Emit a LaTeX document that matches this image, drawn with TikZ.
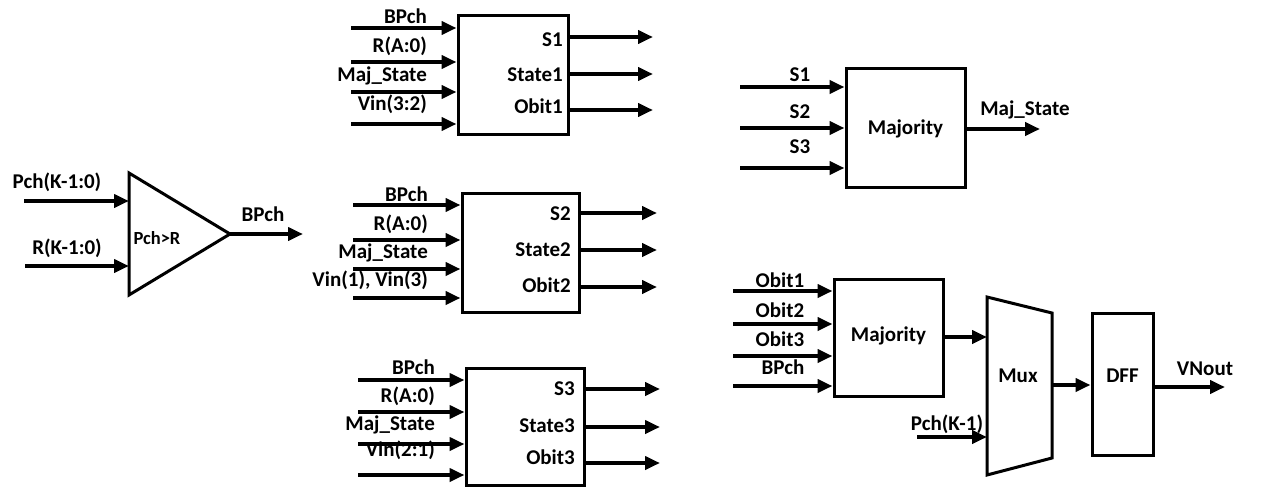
\documentclass[tikz,border=0pt]{standalone}
\usepackage{fontspec}
\setmainfont{Carlito}
\usetikzlibrary{arrows.meta}
\begin{document}
\begin{tikzpicture}[x=1pt,y=-1pt,
  sig/.style={line width=4pt,-{Triangle[length=15pt,width=13pt]}},
  blk/.style={draw,line width=3pt,rectangle,inner sep=0pt},
  lbl/.style={inner sep=0pt,font=\fontsize{21}{24}\selectfont\bfseries,text height=14pt,text depth=3pt},
  slbl/.style={lbl,font=\fontsize{18.5}{20}\selectfont\bfseries}]
\useasboundingbox (0,0) rectangle (1279,487);
% comparator
\draw[line width=3pt,line join=miter] (129,173) -- (230,234) -- (129,295) -- cycle;
\coordinate (cmpout) at (230,234);
\node[slbl] (cmplbl) at (157,239) {Pch>R};
\coordinate (pa) at (24,201); \coordinate (pb) at (129,201);
\coordinate (ra) at (25,266); \coordinate (rb) at (129,266);
\draw[sig] (pa) -- (pb);
\draw[sig] (ra) -- (rb);
\node[lbl] (lpch) at (57,183) {Pch(K-1:0)};
\node[lbl] (lr) at (67,249) {R(K-1:0)};
\coordinate (bpo) at (303,234);
\draw[sig] (cmpout) -- (bpo);
\node[lbl] (lbp) at (263,216) {BPch};
% block 1
\node[blk,minimum width=110pt,minimum height=118pt] (b1) at (513,75) {};
\foreach \y/\n in {28/1,62/2,92/3,124/4}{
  \coordinate (i1\n) at (351,\y);
  \draw[sig] (i1\n) -- (b1.west |- i1\n);}
\node[lbl,anchor=east] (t11) at (427,18) {BPch};
\node[lbl,anchor=east] (t12) at (427,47) {R(A:0)};
\node[lbl,anchor=east] (t13) at (427,76) {Maj\_State};
\node[lbl,anchor=east] (t14) at (427,105) {Vin(3:2)};
\foreach \y/\n/\t in {37/1/S1,74/2/State1,110/3/Obit1}{
  \coordinate (o1\n) at (653,\y);
  \draw[sig] (b1.east |- o1\n) -- (o1\n);}
\node[lbl,anchor=east] (u11) at (563,41) {S1};
\node[lbl,anchor=east] (u12) at (563,76) {State1};
\node[lbl,anchor=east] (u13) at (563,108) {Obit1};
% block 2
\node[blk,minimum width=117pt,minimum height=119pt] (b2) at (520.5,252.5) {};
\foreach \y/\n in {205/1,240/2,269/3,298/4}{
  \coordinate (i2\n) at (353,\y);
  \draw[sig] (i2\n) -- (b2.west |- i2\n);}
\node[lbl,anchor=east] (t21) at (428,196) {BPch};
\node[lbl,anchor=east] (t22) at (428,225) {R(A:0)};
\node[lbl,anchor=east] (t23) at (428,253) {Maj\_State};
\node[lbl,anchor=east] (t24) at (428,281) {Vin(1), Vin(3)};
\foreach \y/\n in {213/1,250/2,287/3}{
  \coordinate (o2\n) at (657,\y);
  \draw[sig] (b2.east |- o2\n) -- (o2\n);}
\node[lbl,anchor=east] (u21) at (571,215) {S2};
\node[lbl,anchor=east] (u22) at (571,251) {State2};
\node[lbl,anchor=east] (u23) at (571,287) {Obit2};
% block 3
\node[blk,minimum width=118pt,minimum height=117pt] (b3) at (525,426.5) {};
\foreach \y/\n in {380/1,412/2,444/3,475/4}{
  \coordinate (i3\n) at (358,\y);
  \draw[sig] (i3\n) -- (b3.west |- i3\n);}
\node[lbl,anchor=east] (t31) at (435,369) {BPch};
\node[lbl,anchor=east] (t32) at (435,397) {R(A:0)};
\node[lbl,anchor=east] (t33) at (435,425) {Maj\_State};
\node[lbl,anchor=east] (t34) at (435,451) {Vin(2:1)};
\foreach \y/\n in {389/1,427/2,463/3}{
  \coordinate (o3\n) at (660,\y);
  \draw[sig] (b3.east |- o3\n) -- (o3\n);}
\node[lbl,anchor=east] (u31) at (575,390) {S3};
\node[lbl,anchor=east] (u32) at (575,427) {State3};
\node[lbl,anchor=east] (u33) at (575,459) {Obit3};
% majority 1
\node[blk,minimum width=119pt,minimum height=118pt] (m1) at (905.5,128) {};
\node[lbl] (m1t) at (905.5,129) {Majority};
\foreach \y/\n in {87/1,128/2,168/3}{
  \coordinate (mi\n) at (740,\y);
  \draw[sig] (mi\n) -- (m1.west |- mi\n);}
\node[lbl] (s1l) at (800,76) {S1};
\node[lbl] (s2l) at (800,113) {S2};
\node[lbl] (s3l) at (800,148) {S3};
\coordinate (mo) at (1040,129);
\draw[sig] (m1.east |- mo) -- (mo);
\node[lbl] (majl) at (1025,110) {Maj\_State};
% majority 2
\node[blk,minimum width=109pt,minimum height=117pt] (m2) at (888.5,337.5) {};
\node[lbl] (m2t) at (888.5,336) {Majority};
\foreach \y/\n in {291/1,324/2,356/3,386/4}{
  \coordinate (ni\n) at (733,\y);
  \draw[sig] (ni\n) -- (m2.west |- ni\n);}
\node[lbl] (ob1) at (780,282) {Obit1};
\node[lbl] (ob2) at (780,312) {Obit2};
\node[lbl] (ob3) at (780,341) {Obit3};
\node[lbl] (obp) at (783,369) {BPch};
% mux
\draw[line width=3pt,line join=miter] (987,297) -- (1052,313) -- (1052,458) -- (987,475) -- cycle;
\node[lbl] (mux) at (1018,377) {Mux};
\coordinate (muxa) at (987,337);
\draw[sig] (m2.east |- muxa) -- (muxa);
\coordinate (pk) at (917,437); \coordinate (pkb) at (987,437);
\draw[sig] (pk) -- (pkb);
\node[lbl] (pkl) at (947,425) {Pch(K-1)};
% dff
\node[blk,minimum width=61pt,minimum height=142pt] (dff) at (1122.5,384) {};
\node[lbl] (dfft) at (1122.5,377) {DFF};
\coordinate (muxo) at (1052,385);
\draw[sig] (muxo) -- (dff.west |- muxo);
\coordinate (vo) at (1225,387);
\draw[sig] (dff.east |- vo) -- (vo);
\node[lbl] (vnl) at (1205,370) {VNout};
\end{tikzpicture}
\end{document}
